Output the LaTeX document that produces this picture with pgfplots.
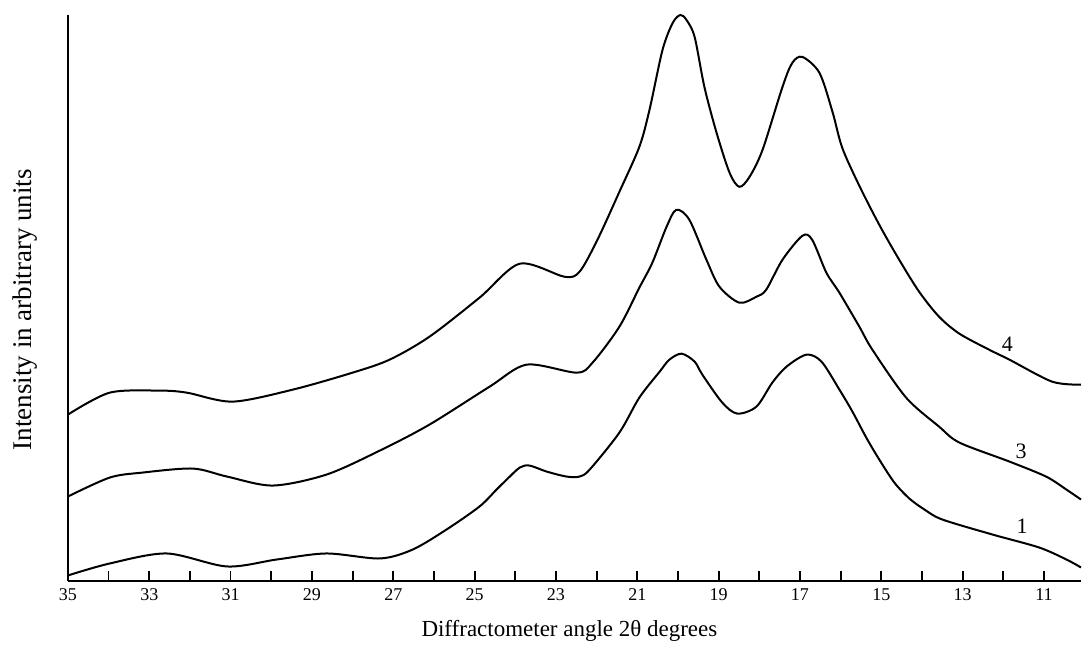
\documentclass[border=0pt]{standalone}
\usepackage{fontspec}
\setmainfont{Liberation Serif}
\usepackage{pgfplots}
\pgfplotsset{compat=1.18}
\usepackage{pgfplotstable}

% curve 1 (bottom)
\pgfplotstableread{
x y
35.00 6
33.97 18
32.57 28
31.09 15
29.86 22
28.64 28
27.33 23
26.52 32
25.69 52
24.88 75
24.46 92
24.21 102
23.89 114
23.65 116
23.23 110
22.74 105
22.42 105
22.17 112
21.44 149
20.95 184
20.45 210
20.21 222
19.91 228
19.59 220
19.40 207
18.91 179
18.54 168
18.07 175
17.68 199
17.33 215
16.84 227
16.47 220
16.03 192
15.71 170
15.37 144
15.05 122
14.68 99
14.31 83
13.94 72
13.50 62
12.27 47
11.12 34
10.45 22
10.09 14
}\curveone

% curve 3 (middle)
\pgfplotstableread{
x y
35.00 85
33.97 104
33.16 109
31.93 113
31.09 105
29.96 96
28.64 107
27.33 131
26.11 157
24.63 195
23.72 217
22.49 209
22.10 219
21.44 255
20.95 294
20.63 319
20.28 355
20.04 372
19.72 362
19.30 322
18.98 295
18.49 279
18.07 285
17.83 292
17.43 322
16.94 346
16.70 342
16.35 309
16.03 289
15.54 255
15.22 232
14.39 184
13.58 155
13.08 139
11.85 120
10.95 105
10.45 92
10.09 82
}\curvethree

% curve 4 (top)
\pgfplotstableread{
x y
35.00 167
33.97 189
32.74 191
32.08 189
30.95 180
29.47 192
28.00 209
27.09 222
26.11 245
24.88 284
23.89 318
22.79 305
22.42 310
21.98 342
21.44 390
20.95 435
20.70 472
20.38 532
20.13 559
19.94 567
19.79 562
19.59 545
19.35 495
19.05 449
18.73 409
18.49 395
18.24 405
17.92 432
17.43 495
17.19 519
16.94 525
16.52 509
16.20 470
15.96 434
15.54 396
15.05 357
14.56 322
14.07 290
13.58 265
13.08 248
12.35 232
11.85 222
10.80 200
10.09 197
}\curvefour

\begin{document}
\begin{tikzpicture}
\path (-34pt,-34.5pt) rectangle (507pt,291pt);
\begin{axis}[
    scale only axis,
    width=507pt,
    height=283.5pt,
    x dir=reverse,
    xmin=10.09, xmax=35,
    ymin=0, ymax=567,
    axis x line=bottom,
    axis y line=left,
    axis line style={-, line width=1pt},
    xtick={11,13,...,35},
    minor xtick={12,14,...,34},
    major tick length=5pt,
    minor tick length=5pt,
    tick align=inside,
    tick style={black, line width=0.9pt},
    ytick=\empty,
    /pgf/number format/assume math mode=true,
    xticklabel style={font=\fontsize{9}{10}\selectfont},
    xlabel={Diffractometer angle 2θ degrees},
    ylabel={Intensity in arbitrary units},
    xlabel style={at={(axis description cs:0.495,-0.088)}, anchor=center, font=\fontsize{11.5}{13}\selectfont},
    ylabel style={at={(axis description cs:-0.0424,0.48)}, anchor=center, font=\fontsize{13.5}{15}\selectfont},
    clip=false,
]
\addplot[black, line width=1pt, smooth] table {\curveone};
\addplot[black, line width=1pt, smooth] table {\curvethree};
\addplot[black, line width=1pt, smooth] table {\curvefour};
\node[font=\fontsize{11}{12}\selectfont] at (axis cs:11.90,237) {4};
\node[font=\fontsize{11}{12}\selectfont] at (axis cs:11.56,130) {3};
\node[font=\fontsize{11}{12}\selectfont] at (axis cs:11.54,55) {1};
\end{axis}
\end{tikzpicture}
\end{document}
